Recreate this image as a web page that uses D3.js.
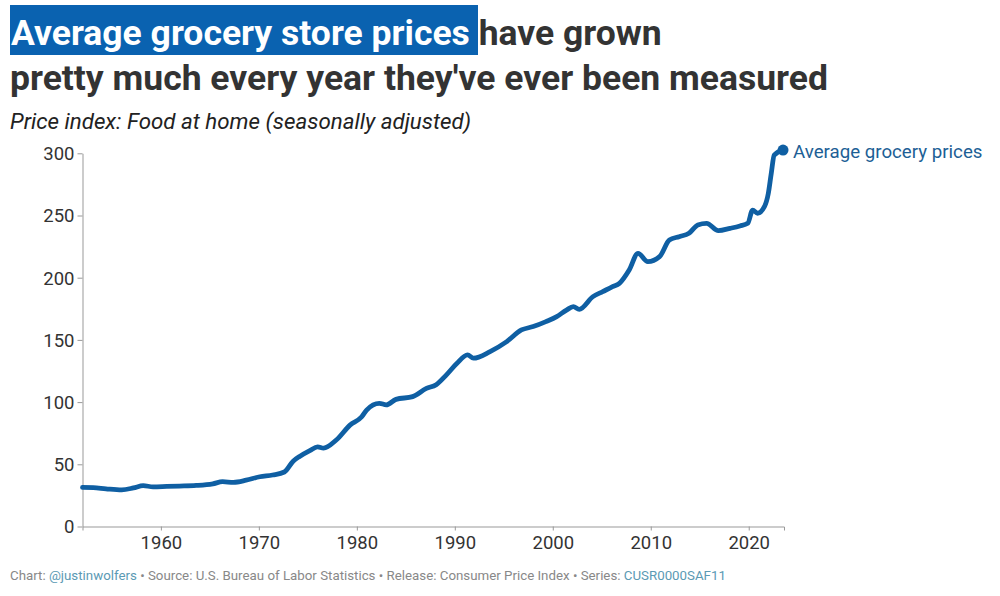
<!DOCTYPE html>
<html>
<head>
<meta charset="utf-8">
<script src="https://cdn.jsdelivr.net/npm/d3@7"></script>
<style>
  body { margin: 0; background: #fff; font-family: Roboto, "Noto Sans", sans-serif; }
  svg text { font-family: Roboto, "Noto Sans", sans-serif; }
</style>
</head>
<body>
<svg id="chart" width="1000" height="596"></svg>
<script>
// price index, food at home
const years = [1952.0, 1953.1, 1954.4, 1956.0, 1957.2, 1958.2, 1959.2, 1960.6, 1961.9, 1963.6,
  1965.3, 1966.3, 1967.4, 1968.7, 1970.1, 1971.4, 1972.6, 1973.5, 1974.2, 1975.2,
  1976.0, 1976.6, 1977.9, 1979.3, 1980.5, 1981.0, 1982.3, 1983.0, 1984.0, 1985.7,
  1987.1, 1988.1, 1989.1, 1990.2, 1991.3, 1991.9, 1993.6, 1995.3, 1996.8, 1998.0,
  1999.3, 2000.4, 2001.4, 2002.1, 2002.7, 2004.1, 2005.1, 2006.1, 2006.8, 2007.8,
  2008.7, 2009.7, 2010.9, 2011.9, 2012.9, 2013.9, 2014.8, 2015.7, 2016.9, 2018.1,
  2019.1, 2019.9, 2020.4, 2020.9, 2021.6, 2022.0, 2022.3, 2022.6, 2023.5];
const prices = [31.4, 31.2, 30.3, 29.5, 31.0, 32.8, 31.9, 32.2, 32.5, 33.0,
  34.3, 36.0, 35.5, 37.2, 40.0, 41.4, 43.8, 52.5, 56.5, 61.0,
  64.0, 63.0, 69.5, 81.5, 88.2, 93.6, 99.0, 97.8, 102.2, 104.4,
  111.0, 114.0, 121.5, 131.0, 138.0, 135.3, 140.6, 148.6, 158.0, 160.7,
  164.7, 168.7, 174.0, 176.7, 174.6, 184.8, 188.8, 192.8, 195.5, 206.2,
  219.6, 212.9, 216.9, 230.3, 233.0, 235.7, 242.4, 243.7, 237.8, 239.7,
  241.6, 243.7, 254.4, 251.8, 257.1, 267.8, 283.9, 298.6, 302.6];
const yTicks = [0, 50, 100, 150, 200, 250, 300];
const xTicks = [1960, 1970, 1980, 1990, 2000, 2010, 2020];

const data = years.map((y, i) => ({ year: y, value: prices[i] }));

const svg = d3.select("#chart");
const lineColor = "#0f5fa3";
const plotLeft = 82.5, plotRight = 784, plotTop = 153.3, plotBottom = 526.5;

// title
const title = svg.append("g");
title.append("rect")
  .attr("x", 10).attr("y", 5).attr("width", 468).attr("height", 50)
  .attr("fill", "#0a62b0");
title.append("text")
  .attr("x", 11).attr("y", 45)
  .attr("font-size", 35.5).attr("font-weight", 700)
  .attr("fill", "#333")
  .call(t => {
    t.append("tspan").attr("fill", "#fff").text("Average grocery store prices ");
    t.append("tspan").text("have grown");
  });
title.append("text")
  .attr("x", 10).attr("y", 90)
  .attr("font-size", 35.5).attr("font-weight", 700)
  .attr("fill", "#333")
  .text("pretty much every year they've ever been measured");
title.append("text")
  .attr("x", 10).attr("y", 129)
  .attr("font-size", 22.3).attr("font-style", "italic")
  .attr("fill", "#222")
  .text("Price index: Food at home (seasonally adjusted)");

// scales
const x = d3.scaleLinear().domain([1952, 2023.6]).range([plotLeft, plotRight]);
const y = d3.scaleLinear().domain([0, 300]).range([plotBottom, plotTop]);

// axes
const yAxis = svg.append("g")
  .attr("transform", "translate(" + plotLeft + ",0)")
  .call(d3.axisLeft(y).tickValues(yTicks).tickSize(5).tickSizeOuter(0).tickPadding(3));
const xAxis = svg.append("g")
  .attr("transform", "translate(0," + plotBottom + ")")
  .call(d3.axisBottom(x).tickValues(xTicks).tickFormat(d3.format("d")).tickSize(4).tickSizeOuter(4).tickPadding(5));

[yAxis, xAxis].forEach(a => {
  a.selectAll("path, line").attr("stroke", "#999");
  a.selectAll("text").attr("fill", "#333").attr("font-size", 18.5);
});
yAxis.selectAll("text").attr("dy", "0.35em");

// the line
svg.append("path")
  .datum(data)
  .attr("fill", "none")
  .attr("stroke", lineColor)
  .attr("stroke-width", 4.8)
  .attr("stroke-linejoin", "round")
  .attr("stroke-linecap", "round")
  .attr("d", d3.line().x(d => x(d.year)).y(d => y(d.value)).curve(d3.curveMonotoneX));

const last = data[data.length - 1];
svg.append("circle")
  .attr("cx", x(last.year)).attr("cy", y(last.value)).attr("r", 5.5)
  .attr("fill", lineColor);
svg.append("text")
  .attr("x", x(last.year) + 10).attr("y", y(last.value) + 7.5)
  .attr("font-size", 18.7).attr("fill", "#1d5f96")
  .text("Average grocery prices");

// footer
svg.append("text")
  .attr("x", 10).attr("y", 580)
  .attr("font-size", 13.3).attr("fill", "#888")
  .call(t => {
    t.append("tspan").text("Chart: ");
    t.append("tspan").attr("fill", "#5b9ab4").text("@justinwolfers");
    t.append("tspan").text(" \u2022 Source: U.S. Bureau of Labor Statistics \u2022 Release: Consumer Price Index \u2022 Series: ");
    t.append("tspan").attr("fill", "#5b9ab4").text("CUSR0000SAF11");
  });
</script>
</body>
</html>
